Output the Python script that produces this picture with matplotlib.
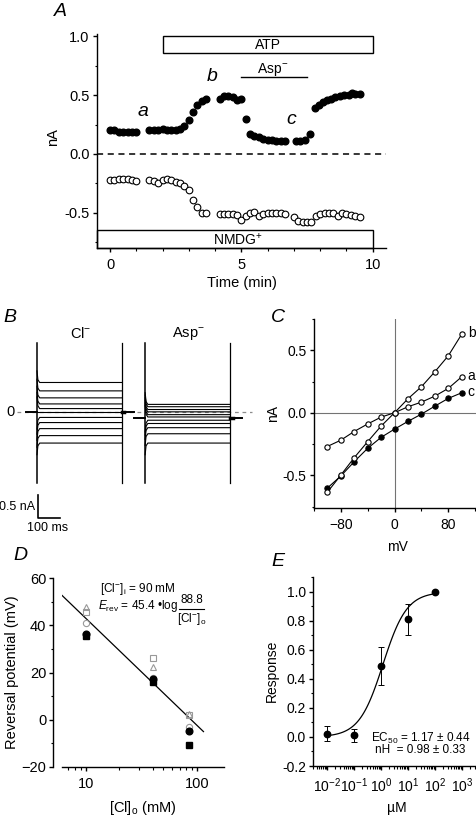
import numpy as np
import matplotlib
matplotlib.use("Agg")
import matplotlib.pyplot as plt
from matplotlib import ticker
from matplotlib.patches import Rectangle

plt.rcParams['font.family'] = ['Liberation Sans', 'DejaVu Sans']
plt.rcParams['mathtext.fontset'] = 'custom'
plt.rcParams['mathtext.rm'] = 'Liberation Sans'
plt.rcParams['mathtext.it'] = 'Liberation Sans:italic'
plt.rcParams['mathtext.bf'] = 'Liberation Sans:bold'
plt.rcParams['font.size'] = 10
plt.rcParams['axes.linewidth'] = 1.0
for a in ('xtick', 'ytick'):
    plt.rcParams[a + '.direction'] = 'out'
    plt.rcParams[a + '.major.size'] = 3.2
    plt.rcParams[a + '.minor.size'] = 1.8
    plt.rcParams[a + '.major.width'] = 1.0
    plt.rcParams[a + '.minor.width'] = 0.8
plt.rcParams['xtick.major.pad'] = 4
plt.rcParams['ytick.major.pad'] = 2

# ---- A: time course (min, nA)
t_pos = [0, 0.17, 0.33, 0.5, 0.67, 0.83, 1.0,
         1.5, 1.67, 1.83, 2.0, 2.17, 2.33, 2.5, 2.67, 2.83, 3.0, 3.17, 3.33, 3.5, 3.67,
         4.17, 4.33, 4.5, 4.67, 4.83, 5.0,
         5.17, 5.33, 5.5, 5.67, 5.83, 6.0, 6.17, 6.33, 6.5, 6.67,
         7.08, 7.25, 7.42, 7.62, 7.8, 7.95, 8.1, 8.25, 8.42, 8.58, 8.75, 8.92, 9.08, 9.2, 9.33, 9.5]
i_pos = [0.20, 0.20, 0.19, 0.19, 0.19, 0.19, 0.19,
         0.20, 0.20, 0.20, 0.21, 0.20, 0.20, 0.20, 0.21, 0.24, 0.29, 0.36, 0.42, 0.45, 0.47,
         0.47, 0.49, 0.49, 0.48, 0.46, 0.47,
         0.30, 0.17, 0.15, 0.14, 0.13, 0.12, 0.12, 0.11, 0.11, 0.11,
         0.11, 0.11, 0.12, 0.17, 0.39, 0.42, 0.44, 0.46, 0.47, 0.48, 0.49, 0.50, 0.50, 0.52, 0.51, 0.51]
t_neg = [0, 0.17, 0.33, 0.5, 0.67, 0.83, 1.0,
         1.5, 1.67, 1.83, 2.0, 2.17, 2.33, 2.5, 2.67, 2.83, 3.0, 3.17, 3.33, 3.5, 3.67,
         4.17, 4.33, 4.5, 4.67, 4.83, 5.0, 5.17, 5.33, 5.5, 5.67, 5.83, 6.0, 6.17, 6.33, 6.5, 6.67,
         7.0, 7.17, 7.33, 7.5, 7.67, 7.83, 8.0, 8.17, 8.33, 8.5, 8.67, 8.83, 9.0, 9.17, 9.33, 9.5]
i_neg = [-0.22, -0.22, -0.21, -0.21, -0.21, -0.22, -0.23,
         -0.22, -0.23, -0.25, -0.22, -0.21, -0.22, -0.24, -0.25, -0.27, -0.31, -0.39, -0.45, -0.50, -0.50,
         -0.51, -0.51, -0.51, -0.51, -0.52, -0.56, -0.53, -0.50, -0.49, -0.53, -0.51, -0.50, -0.50, -0.50, -0.50, -0.51,
         -0.54, -0.57, -0.58, -0.58, -0.58, -0.53, -0.51, -0.50, -0.50, -0.50, -0.53, -0.50, -0.51, -0.52, -0.53, -0.54]
atp_on, atp_off = 2.0, 10.0
asp_on, asp_off = 5.0, 7.5

# ---- B: current steps (nA)
cl_levels = [0.64, 0.46, 0.31, 0.18, 0.08, 0.0, -0.11, -0.22, -0.35, -0.50, -0.66]
asp_levels = [0.17, 0.12, 0.06, 0.01, -0.05, -0.10, -0.17, -0.24, -0.33, -0.46, -0.66]
cl_hold, asp_hold = 0.0, -0.13
step_ms = 380

# ---- C: I-V (mV, nA)
volts = [-100, -80, -60, -40, -20, 0, 20, 40, 60, 80, 100]
iv_a = [-0.27, -0.22, -0.15, -0.09, -0.035, 0.0, 0.048, 0.085, 0.133, 0.195, 0.288]
iv_b = [-0.637, -0.50, -0.36, -0.232, -0.107, 0.0, 0.112, 0.208, 0.328, 0.456, 0.629]
iv_c = [-0.603, -0.507, -0.392, -0.285, -0.197, -0.131, -0.069, -0.011, 0.053, 0.115, 0.16]

# ---- D: reversal potential vs [Cl]o
cl_o = [10, 40, 85]
erev_open_tri = [47.7, 22.3, 2.5]
erev_open_sq = [45.6, 26.1, 1.8]
erev_open_circ = [40.9, 17.5, -3.1]
erev_fill_circ = [36.4, 17.1, -5.0]
erev_fill_sq = [35.3, 15.9, -10.9]
fit_slope, fit_cl = 45.4, 88.8

# ---- E: dose response
conc = [0.01, 0.1, 1, 10, 100]
resp = [0.023, 0.012, 0.49, 0.81, 1.0]
resp_err = [0.05, 0.045, 0.13, 0.105, 0.0]
ec50, n_hill = 1.17, 0.98

W, H = 477, 817
fig = plt.figure(figsize=(W / 100, H / 100), dpi=100)


def pax(l, t, r, b):
    return fig.add_axes([l / W, 1 - b / H, (r - l) / W, (b - t) / H])


def ptext(x, y, s, **kw):
    kw.setdefault('ha', 'center')
    kw.setdefault('va', 'center')
    fig.text(x / W, 1 - y / H, s, **kw)


def clean(ax):
    ax.spines['top'].set_visible(False)
    ax.spines['right'].set_visible(False)


# ================= A
ax = pax(96.9, 34, 385.8, 248)
clean(ax)
ax.set_xlim(-0.5, 10.5)
ax.set_ylim(-0.8, 1.02)
ax.axhline(0, color='k', lw=1.1, ls=(0, (4, 3)))
ax.plot(t_pos, i_pos, 'o', color='k', ms=4.8, mec='k')
ax.plot(t_neg, i_neg, 'o', mfc='white', mec='k', ms=4.8, mew=0.8)
ax.add_patch(Rectangle((atp_on, 0.855), atp_off - atp_on, 0.15, fill=False, lw=1.0))
ax.text((atp_on + atp_off) / 2, 0.928, 'ATP', ha='center', va='center', fontsize=10)
ax.plot([asp_on, asp_off], [0.655, 0.655], color='k', lw=1.0)
ax.text(6.2, 0.72, 'Asp$^{-}$', ha='center', va='center', fontsize=10)
ax.add_patch(Rectangle((-0.5, -0.8), 10.5, 0.15, fill=False, lw=1.0, clip_on=False))
ax.text(4.85, -0.727, 'NMDG$^{+}$', ha='center', va='center', fontsize=10)
for s, x, y in [('a', 1.27, 0.36), ('b', 3.9, 0.66), ('c', 6.9, 0.29)]:
    ax.text(x, y, s, ha='center', va='center', fontsize=14, style='italic')
ax.xaxis.set_major_locator(ticker.FixedLocator([0, 5, 10]))
ax.xaxis.set_minor_locator(ticker.MultipleLocator(1))
ax.yaxis.set_major_locator(ticker.FixedLocator([-0.5, 0, 0.5, 1.0]))
ax.yaxis.set_minor_locator(ticker.FixedLocator([-0.75, -0.25, 0.25, 0.75]))
ax.yaxis.set_major_formatter(ticker.FormatStrFormatter('%.1f'))
ax.tick_params(labelsize=10.5)
ptext(242, 283, 'Time (min)', fontsize=10.5)
ptext(53, 137, 'nA', fontsize=10.5, rotation=90)
ptext(60, 11, 'A', fontsize=14, style='italic')

# ================= B
axB = pax(0, 300, 260, 540)
axB.set_xlim(-165.9, 1000)
axB.set_ylim(-2.74, 2.41)
axB.axis('off')
axB.plot([-90, 964], [0, 0], color='0.55', lw=0.9, ls=(0, (3, 3)))
asp_start = 485
for start, levels, hold in [(0, cl_levels, cl_hold), (asp_start, asp_levels, asp_hold)]:
    end = start + step_ms
    for lv in levels:
        sgn = np.sign(lv - hold)
        axB.plot([start, start + 4, start + 12, end], [lv + 0.25 * sgn, lv + 0.06 * sgn, lv, lv],
                 color='k', lw=0.8)
    axB.plot([start - 48, start], [hold, hold], color='k', lw=1.4)
    axB.plot([end, end + 55], [hold, hold], color='k', lw=1.4)
    axB.plot([end, end + 12], [hold, hold], color='k', lw=2.5)
    axB.plot([start, start], [-1.52, 1.49], color='k', lw=1.1)
    axB.plot([end, end], [-1.52, 1.49], color='k', lw=0.9)
# scale bar 0.5 nA / 100 ms
axB.plot([3, 3, 103], [-1.775, -2.275, -2.275], color='k', lw=1.2)
ptext(35, 507, '0.5 nA', ha='right', fontsize=9)
ptext(48, 528, '100 ms', fontsize=9)
ptext(11, 412, '0', fontsize=10.5)
ptext(81, 333, 'Cl$^{-}$', fontsize=10.5)
ptext(188, 333, 'Asp$^{-}$', fontsize=10.5)
ptext(10, 318, 'B', fontsize=14, style='italic')

# ================= C
axC = pax(313.8, 318.5, 476.7, 508)
clean(axC)
axC.set_xlim(-120, 122.2)
axC.set_ylim(-0.762, 0.754)
axC.axhline(0, color='0.45', lw=0.8)
axC.axvline(0, color='0.45', lw=0.8)
axC.plot(volts, iv_a, '-o', color='k', lw=0.8, ms=3.8, mfc='white', mew=0.8)
axC.plot(volts, iv_c, '-o', color='k', lw=0.8, ms=3.8, mfc='k', mew=0.8)
axC.plot(volts, iv_b, '-o', color='k', lw=0.8, ms=3.8, mfc='white', mew=0.8)
for s, y in [('b', iv_b[-1]), ('a', iv_a[-1]), ('c', iv_c[-1])]:
    axC.text(109, y + 0.01, s, ha='left', va='center', fontsize=10, clip_on=False)
axC.xaxis.set_major_locator(ticker.FixedLocator([-80, 0, 80]))
axC.xaxis.set_minor_locator(ticker.FixedLocator([-120, -40, 40, 120]))
axC.yaxis.set_major_locator(ticker.FixedLocator([-0.5, 0, 0.5]))
axC.yaxis.set_minor_locator(ticker.FixedLocator([-0.75, -0.25, 0.25, 0.75]))
axC.yaxis.set_major_formatter(ticker.FormatStrFormatter('%.1f'))
ptext(397, 547, 'mV', fontsize=10)
ptext(273, 413, 'nA', fontsize=10, rotation=90)
ptext(278, 318, 'C', fontsize=14, style='italic')

# ================= D
axD = pax(61.7, 578.3, 224, 766.7)
clean(axD)
axD.spines['left'].set_position(('outward', 6))
axD.set_xscale('log')
axD.set_xlim(6.08, 176)
axD.set_ylim(-20, 60)
xf = np.logspace(np.log10(6.08), np.log10(115), 50)
axD.plot(xf, fit_slope * np.log10(fit_cl / xf), color='k', lw=0.9)
grey = '0.6'
axD.plot(cl_o, erev_open_tri, '^', mfc='none', mec=grey, ms=5, mew=0.8)
axD.plot(cl_o, erev_open_sq, 's', mfc='none', mec=grey, ms=4.5, mew=0.8)
axD.plot(cl_o, erev_open_circ, 'o', mfc='none', mec=grey, ms=4.5, mew=0.8)
axD.plot(cl_o, erev_fill_sq, 's', color='k', ms=4.5)
axD.plot(cl_o, erev_fill_circ, 'o', color='k', ms=4.8)
axD.xaxis.set_major_locator(ticker.FixedLocator([10, 100]))
axD.xaxis.set_major_formatter(ticker.FixedFormatter(['10', '100']))
axD.xaxis.set_minor_locator(ticker.LogLocator(subs=np.arange(2, 10), numticks=20))
axD.xaxis.set_minor_formatter(ticker.NullFormatter())
axD.yaxis.set_major_locator(ticker.MultipleLocator(20))
axD.yaxis.set_minor_locator(ticker.MultipleLocator(10))
axD.tick_params(labelsize=10.5)
ptext(100, 589, '[Cl$^{-}$]$_{\\mathregular{i}}$ = 90 mM', ha='left', fontsize=8.5)
ptext(98, 606, '$\\mathit{E}_{\\mathregular{rev}}$ = 45.4 \u2022log', ha='left', fontsize=8.5)
ptext(191.5, 600, '88.8', fontsize=8.5)
fig.add_artist(plt.Line2D([179 / W, 204 / W], [1 - 609 / H, 1 - 609 / H], color='k', lw=0.8))
ptext(191.5, 619, '[Cl$^{-}$]$_{\\mathregular{o}}$', fontsize=8.5)
ptext(143, 808, '[Cl]$_{\\mathregular{o}}$ (mM)', fontsize=10.5)
ptext(12, 672, 'Reversal potential (mV)', fontsize=10.5, rotation=90)
ptext(20, 555, 'D', fontsize=14, style='italic')

# ================= E
axE = pax(313.3, 576.7, 476.7, 766)
clean(axE)
axE.set_xscale('log')
axE.set_xlim(0.003, 3600)
axE.set_ylim(-0.2, 1.105)
xc = np.logspace(-2, 1.9, 100)
axE.plot(xc, 1 / (1 + (ec50 / xc) ** n_hill), color='k', lw=0.9)
axE.errorbar(conc, resp, yerr=resp_err, fmt='o', color='k', ms=4.6, elinewidth=0.7, capsize=2, capthick=0.7)
axE.xaxis.set_major_locator(ticker.LogLocator(numticks=10))
axE.xaxis.set_minor_locator(ticker.LogLocator(subs=np.arange(2, 10), numticks=20))
axE.xaxis.set_minor_formatter(ticker.NullFormatter())
axE.yaxis.set_major_locator(ticker.MultipleLocator(0.2))
axE.yaxis.set_minor_locator(ticker.MultipleLocator(0.1))
axE.yaxis.set_major_formatter(ticker.FormatStrFormatter('%.1f'))
axE.text(0.355, 0.145, 'EC$_{50}$ = 1.17 \u00b1 0.44', transform=axE.transAxes, fontsize=8.5, ha='left', va='center')
axE.text(0.375, 0.082, 'nH  = 0.98 \u00b1 0.33', transform=axE.transAxes, fontsize=8.5, ha='left', va='center')
ptext(397, 808, '\u00b5M', fontsize=10)
ptext(272, 671, 'Response', fontsize=10, rotation=90)
ptext(278, 562, 'E', fontsize=14, style='italic')

fig.savefig('out.png', dpi=100)
